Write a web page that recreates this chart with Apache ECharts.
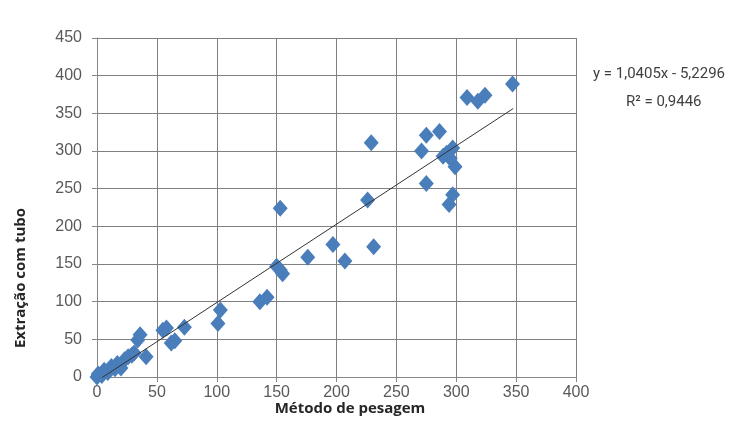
<!DOCTYPE html>
<html>
<head>
<meta charset="utf-8">
<script src="https://cdn.jsdelivr.net/npm/echarts@6/dist/echarts.min.js"></script>
<style>html,body{margin:0;padding:0;background:#fff}#c{width:751px;height:446px}</style>
</head>
<body>
<div id="c"></div>
<script>
var xValues = [0,1,4,6,9,12,15,17,20,23,26,29,31,34,36,41,55,58,62,65,73,101,103,136,142,150,153,155,153,176,197,207,226,229,231,271,275,275,286,289,292,295,297,299,297,294,309,318,324,347];
var yValues = [0,4,2,9,6,14,11,18,12,23,27,29,32,49,56,27,62,65,45,48,66,71,89,100,106,147,142,137,224,159,176,154,235,311,173,300,257,321,326,293,297,290,304,279,242,229,371,366,374,389];
var trendX = [0, 347.6];
var trendY = [-5.2, 356.4];
var xTicks = [0,50,100,150,200,250,300,350,400];
var yTicks = [0,50,100,150,200,250,300,350,400,450];
var equationText = 'y = 1,0405x - 5,2296';
var r2Text = 'R² = 0,9446';
var xTitle = 'Método de pesagem';
var yTitle = 'Extração com tubo';

var pts = xValues.map(function(x,i){return [x, yValues[i]];});
var trend = trendX.map(function(x,i){return [x, trendY[i]];});
var chart = echarts.init(document.getElementById('c'));
var labelFont = {color:'#595959', fontSize:16, fontFamily:'Liberation Sans, Arial, sans-serif'};
chart.setOption({
  animation:false,
  backgroundColor:'#fff',
  grid:{left:97, right:175, top:38, bottom:69},
  xAxis:{type:'value', min:xTicks[0], max:xTicks[xTicks.length-1], interval:50,
    axisLine:{show:true, onZero:false, lineStyle:{color:'#868686'}},
    axisTick:{show:true, length:5, lineStyle:{color:'#868686'}},
    splitLine:{show:true, lineStyle:{color:'#808080', width:1}},
    axisLabel:Object.assign({margin:8}, labelFont)},
  yAxis:{type:'value', min:yTicks[0], max:yTicks[yTicks.length-1], interval:50,
    axisLine:{show:true, onZero:false, lineStyle:{color:'#868686'}},
    axisTick:{show:true, length:5, lineStyle:{color:'#868686'}},
    splitLine:{show:true, lineStyle:{color:'#808080', width:1}},
    axisLabel:Object.assign({margin:15}, labelFont)},
  series:[
    {type:'line', data:trend, showSymbol:false, symbol:'none', lineStyle:{color:'#333', width:1}, z:3, silent:true},
    {type:'scatter', data:pts, symbol:'diamond', symbolSize:[15,17], itemStyle:{color:'#4a7ebb', opacity:1}, z:2}
  ],
  graphic:[
    {type:'text', left:593, top:67, style:{text:equationText, fill:'#404040', font:'15px Roboto, sans-serif'}},
    {type:'text', left:626, top:95, style:{text:r2Text, fill:'#404040', font:'15px Roboto, sans-serif'}},
    {type:'text', x:350, y:409, style:{text:xTitle, fill:'#262626', font:'bold 15px "Open Sans", sans-serif', align:'center', verticalAlign:'middle'}},
    {type:'text', x:21, y:278, rotation:Math.PI/2, style:{text:yTitle, fill:'#262626', font:'bold 15px "Open Sans", sans-serif', align:'center', verticalAlign:'middle'}}
  ]
});
</script>
</body>
</html>
